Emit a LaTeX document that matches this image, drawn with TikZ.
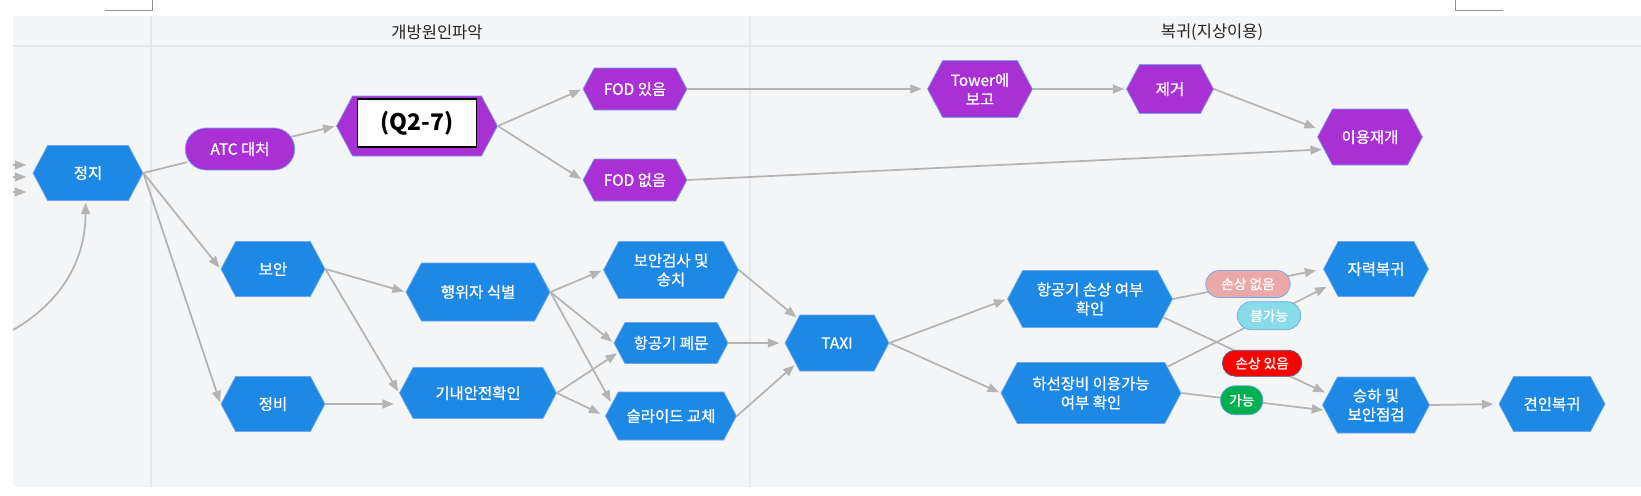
\documentclass[tikz,border=0pt]{standalone}
\usepackage{fontspec}
\setmainfont{Noto Sans CJK KR}
\newfontfamily\boxfont[FakeBold=0.9]{Noto Sans CJK KR}
\usetikzlibrary{shapes.symbols, shapes.misc, arrows.meta}

\definecolor{blu}{HTML}{1E88E5}
\definecolor{pur}{HTML}{A830D4}
\definecolor{rim}{HTML}{6FA8F0}
\definecolor{wire}{HTML}{B4B4B4}
\definecolor{panel}{HTML}{F4F5F7}
\definecolor{lane}{HTML}{E6E8EB}
\definecolor{pink}{HTML}{EBA8A8}
\definecolor{cyan}{HTML}{88DCE8}
\definecolor{okgreen}{HTML}{00B050}

\tikzset{
  hexa/.style={signal, signal to=east and west, signal pointer angle=124,
    draw=rim, line width=0.4pt, fill=#1, text=white, align=center,
    inner sep=1pt, font=\boxfont\fontsize{8.8}{10.8}\selectfont},
  hexa/.default=blu,
  pill/.style={rounded rectangle, draw=rim, line width=0.4pt, fill=#1,
    text=white, inner sep=1pt, font=\boxfont\fontsize{7.8}{9}\selectfont},
  flow/.style={draw=wire, line width=1pt, shorten >=1pt},
}

\begin{document}
\begin{tikzpicture}[x=0.2mm, y=-0.2mm, >={Triangle[length=6.5pt,width=5pt]}]
    \useasboundingbox (0,0) rectangle (1641,495);

    % Fundo e raias
    \fill[panel] (13,16) rectangle (1641,487);
    \draw[lane, line width=0.8pt] (13,46) -- (1641,46);
    \draw[lane, line width=0.8pt] (151,16) -- (151,487);
    \draw[lane, line width=0.8pt] (750,16) -- (750,487);
    \draw[wire!80!black, line width=0.5pt] (105,10) -- (152,10) -- (152,0);
    \draw[wire!80!black, line width=0.5pt] (1455,0) -- (1455,10) -- (1503,10);
    \node[font=\fontsize{9.4}{11}\selectfont, text=black!85] (h1) at (437,32) {개방원인파악};
    \node[font=\fontsize{9.4}{11}\selectfont, text=black!85] (h2) at (1212,32) {복귀(지상이용)};

    % Nós de cima (roxo)
    \node[hexa, minimum width=22mm, minimum height=11mm] (stop) at (88,173) {정지};
    \node[pill=pur, minimum width=22.6mm, minimum height=8.4mm, font=\boxfont\fontsize{8.8}{10}\selectfont] (atc) at (240,149) {ATC 대처};
    \node[hexa=pur, minimum width=32.2mm, minimum height=12mm] (q) at (417,126) {};
    \node[draw=black, fill=white, line width=0.8pt, minimum width=23.8mm, minimum height=9.6mm,
      font=\fontsize{13}{15}\selectfont\bfseries] (qbox) at (417,123) {(Q2-7)};
    \node[hexa=pur, minimum width=20.8mm, minimum height=8.4mm] (fod1) at (635,89) {FOD 있음};
    \node[hexa=pur, minimum width=20.8mm, minimum height=8.4mm] (fod2) at (635,180) {FOD 없음};
    \node[hexa=pur, minimum width=21mm, minimum height=11.4mm] (twr) at (980,89) {Tower에\\보고};
    \node[hexa=pur, minimum width=17.4mm, minimum height=9.8mm] (rem) at (1170,89) {제거};
    \node[hexa=pur, minimum width=21mm, minimum height=11.2mm] (resume) at (1370,137) {이용재개};

    % Nós de baixo (azul)
    \node[hexa, minimum width=20.8mm, minimum height=11mm] (sec) at (273,269) {보안};
    \node[hexa, minimum width=20.8mm, minimum height=11mm] (mnt) at (273,404) {정비};
    \node[hexa, minimum width=28.8mm, minimum height=11.6mm] (actor) at (478,292) {행위자 식별};
    \node[hexa, minimum width=31.4mm, minimum height=10.2mm] (cabin) at (478,393) {기내안전확인};
    \node[hexa, minimum width=27mm, minimum height=11.4mm] (check) at (671,270) {보안검사 및\\송치};
    \node[hexa, minimum width=22.8mm, minimum height=8.2mm] (door) at (671,343) {항공기 폐문};
    \node[hexa, minimum width=26.2mm, minimum height=9.6mm] (slide) at (671,416) {슬라이드 교체};
    \node[hexa, minimum width=20.8mm, minimum height=11.2mm] (taxi) at (837,343) {TAXI};
    \node[hexa, minimum width=33mm, minimum height=11.4mm] (dmg) at (1090,299) {항공기 손상 여부\\확인};
    \node[hexa, minimum width=36mm, minimum height=12.2mm] (ramp) at (1091,393) {하선장비 이용가능\\여부 확인};
    \node[hexa, minimum width=21mm, minimum height=11mm] (self) at (1376,269) {자력복귀};
    \node[hexa, minimum width=21.4mm, minimum height=11.2mm] (ride) at (1376,405) {승하 및\\보안점검};
    \node[hexa, minimum width=21.2mm, minimum height=11mm] (tow) at (1552,404) {견인복귀};

    % Setas que chegam ao 정지
    \foreach \y [count=\i] in {165,177,192} {
      \coordinate (in\i) at (13,\y);
      \draw[flow, ->] (in\i) -- ++(15,0);
    }
    \coordinate (back) at (13,330);
    \draw[flow, ->] (back) to[out=30, in=-90] (stop.265);

    % Ramo de cima
    \draw[flow] (stop.east) -- (atc);
    \draw[flow, ->] (atc) -- (q.west);
    \draw[flow, ->] (q.east) -- (fod1.west);
    \draw[flow, ->] (q.east) -- (fod2.west);
    \draw[flow, ->, shorten >=3pt] (fod1.east) -- (twr.west);
    \draw[flow, ->] (twr.east) -- (rem.west);
    \draw[flow, ->, shorten >=3pt] (rem.east) -- (resume.172);
    \draw[flow, ->] (fod2.east) -- (resume.195);

    % Ramo de baixo
    \draw[flow, ->] (stop.east) -- (sec.west);
    \draw[flow, ->] (stop.east) -- (mnt.west);
    \draw[flow, ->] (sec.east) -- (actor.west);
    \draw[flow, ->] (sec.east) -- (cabin.west);
    \draw[flow, ->, shorten >=3pt] (mnt.east) -- (cabin.west |- mnt.east);
    \draw[flow, ->] (actor.east) -- (check.west);
    \draw[flow, ->] (actor.east) -- (door.west);
    \draw[flow, ->] (actor.east) -- (slide.168);
    \draw[flow, ->] (cabin.east) -- (door.190);
    \draw[flow, ->, shorten >=3pt] (cabin.east) -- (slide.west);
    \draw[flow, ->] (check.east) -- (taxi.148);
    \draw[flow, ->, shorten >=3pt] (door.east) -- (taxi.west);
    \draw[flow, ->] (slide.east) -- (taxi.207);
    \draw[flow, ->] (taxi.east) -- (dmg.west);
    \draw[flow, ->] (taxi.east) -- (ramp.west);

    % Decisões com rótulo
    \draw[flow, ->, shorten >=4pt] (dmg.east) -- node[pill=pink, minimum width=17.6mm, minimum height=5.4mm] (l1) {손상 없음} (self.west);
    \draw[flow, ->, shorten >=2pt] (dmg.-14) -- node[pill=red, pos=0.6, draw=rim!60!black, minimum width=16.6mm, minimum height=5.2mm] (l3) {손상 있음} (ride.167);
    \draw[flow, ->, shorten >=3pt] (ramp.19) -- node[pill=cyan, pos=0.62, minimum width=13.4mm, minimum height=5.6mm] (l2) {불가능} (self.199);
    \draw[flow, ->] (ramp.east) -- node[pill=okgreen, pos=0.42, minimum width=9.2mm, minimum height=5.8mm] (l4) {가능} (ride.186);
    \draw[flow, ->, shorten >=3pt] (ride.east) -- (tow.west);
\end{tikzpicture}
\end{document}
